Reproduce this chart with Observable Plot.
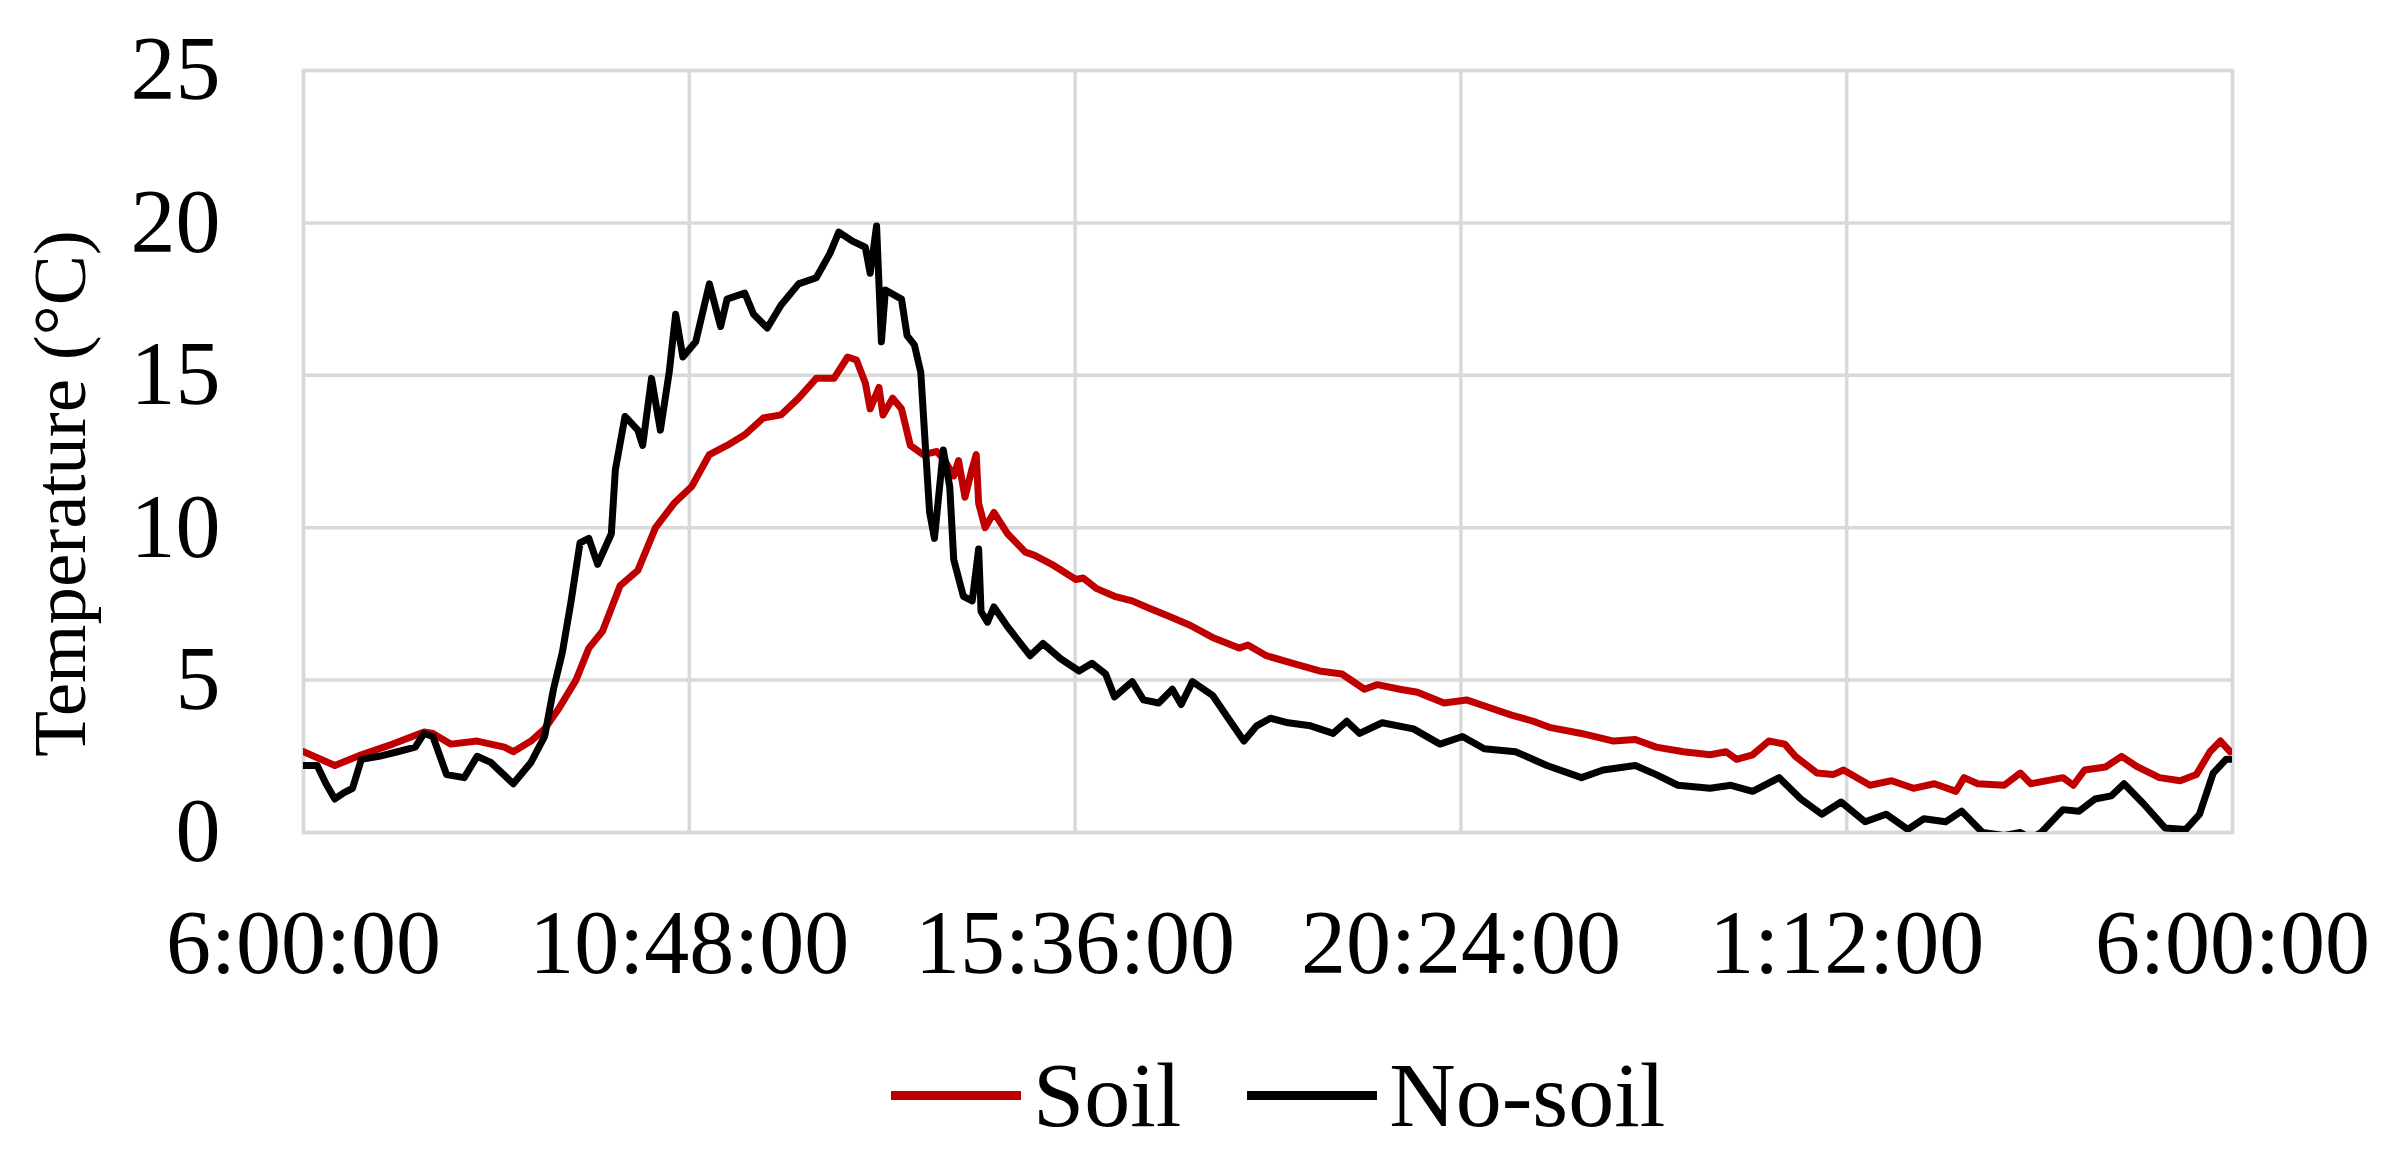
<!DOCTYPE html>
<html>
<head>
<meta charset="utf-8">
<script src="https://cdn.jsdelivr.net/npm/d3@7"></script>
<script src="https://cdn.jsdelivr.net/npm/@observablehq/plot@0.6"></script>
<style>
html, body { margin: 0; padding: 0; background: #fff; }
#chart { position: relative; width: 2390px; height: 1164px; overflow: hidden; }
.legend { position: absolute; left: 891px; top: 1049px; display: flex; align-items: center;
  font-family: "Liberation Serif", serif; font-size: 92px; line-height: 1; color: #000; }
.sw { display: inline-block; width: 130px; height: 9px; margin-right: 12px; }
.item { display: flex; align-items: center; }
</style>
</head>
<body>
<div id="chart"></div>
<script>
// Hours elapsed since 6:00:00
const soilTime = [0, 0.39, 0.72, 1.11, 1.5, 1.61, 1.83, 2.16, 2.5, 2.61, 2.83, 3.0, 3.16, 3.39, 3.55, 3.72, 3.94, 4.16, 4.38, 4.61, 4.83, 5.05, 5.27, 5.49, 5.72, 5.94, 6.16, 6.38, 6.6, 6.77, 6.88, 6.99, 7.05, 7.16, 7.21, 7.33, 7.44, 7.55, 7.71, 7.88, 7.98, 8.09, 8.15, 8.23, 8.31, 8.37, 8.4, 8.48, 8.59, 8.76, 8.98, 9.09, 9.31, 9.61, 9.7, 9.87, 10.09, 10.31, 10.53, 10.76, 11.03, 11.31, 11.64, 11.75, 11.98, 12.31, 12.64, 12.92, 13.2, 13.36, 13.64, 13.86, 14.19, 14.47, 14.75, 15.03, 15.3, 15.5, 15.9, 16.3, 16.57, 16.83, 17.17, 17.5, 17.7, 17.83, 18.03, 18.23, 18.43, 18.56, 18.83, 19.03, 19.16, 19.49, 19.76, 20.03, 20.29, 20.56, 20.66, 20.83, 21.16, 21.36, 21.49, 21.89, 22.02, 22.16, 22.42, 22.62, 22.82, 23.09, 23.35, 23.55, 23.72, 23.85, 23.97];
const soilTemp = [2.65, 2.2, 2.55, 2.9, 3.3, 3.25, 2.9, 3.0, 2.8, 2.65, 3.0, 3.4, 4.0, 5.0, 6.05, 6.6, 8.1, 8.6, 10.0, 10.8, 11.35, 12.4, 12.7, 13.05, 13.6, 13.7, 14.25, 14.9, 14.9, 15.6, 15.5, 14.75, 13.9, 14.6, 13.7, 14.25, 13.9, 12.7, 12.4, 12.5, 12.2, 11.7, 12.2, 11.0, 11.85, 12.4, 10.8, 10.0, 10.5, 9.8, 9.2, 9.1, 8.8, 8.3, 8.35, 8.0, 7.75, 7.6, 7.35, 7.1, 6.8, 6.4, 6.05, 6.15, 5.8, 5.55, 5.3, 5.2, 4.7, 4.85, 4.7, 4.6, 4.25, 4.35, 4.1, 3.85, 3.65, 3.45, 3.25, 3.0, 3.05, 2.8, 2.65, 2.55, 2.65, 2.4, 2.55, 3.0, 2.9, 2.5, 1.95, 1.9, 2.05, 1.55, 1.7, 1.45, 1.6, 1.35, 1.8, 1.6, 1.55, 1.95, 1.6, 1.8, 1.55, 2.05, 2.15, 2.5, 2.15, 1.8, 1.7, 1.9, 2.65, 3.0, 2.65];

const noSoilTime = [0, 0.17, 0.28, 0.39, 0.5, 0.61, 0.72, 0.94, 1.17, 1.39, 1.5, 1.61, 1.78, 2.0, 2.16, 2.33, 2.61, 2.83, 3.0, 3.11, 3.22, 3.33, 3.44, 3.55, 3.66, 3.83, 3.88, 4.0, 4.16, 4.22, 4.33, 4.44, 4.55, 4.63, 4.72, 4.88, 5.05, 5.19, 5.27, 5.49, 5.6, 5.77, 5.94, 6.16, 6.38, 6.55, 6.66, 6.83, 6.99, 7.05, 7.13, 7.19, 7.24, 7.44, 7.51, 7.6, 7.68, 7.74, 7.79, 7.85, 7.96, 8.04, 8.09, 8.21, 8.32, 8.4, 8.43, 8.51, 8.59, 8.76, 9.04, 9.2, 9.42, 9.65, 9.81, 9.98, 10.09, 10.31, 10.45, 10.64, 10.81, 10.92, 11.06, 11.31, 11.53, 11.7, 11.86, 12.03, 12.25, 12.53, 12.81, 12.98, 13.14, 13.42, 13.81, 14.14, 14.42, 14.69, 15.08, 15.47, 15.9, 16.17, 16.57, 16.83, 17.1, 17.5, 17.76, 18.03, 18.36, 18.63, 18.89, 19.13, 19.43, 19.69, 19.96, 20.16, 20.43, 20.63, 20.89, 21.16, 21.36, 21.49, 21.62, 21.89, 22.09, 22.29, 22.49, 22.65, 22.89, 23.16, 23.42, 23.59, 23.76, 23.92, 23.97];
const noSoilTemp = [2.2, 2.2, 1.6, 1.1, 1.3, 1.45, 2.4, 2.5, 2.65, 2.8, 3.25, 3.15, 1.9, 1.8, 2.5, 2.3, 1.6, 2.3, 3.15, 4.7, 5.9, 7.6, 9.5, 9.65, 8.8, 9.8, 11.9, 13.65, 13.2, 12.7, 14.9, 13.2, 15.1, 17.0, 15.6, 16.1, 18.0, 16.6, 17.5, 17.7, 17.0, 16.55, 17.3, 18.0, 18.2, 19.0, 19.7, 19.4, 19.2, 18.35, 19.9, 16.1, 17.8, 17.5, 16.3, 16.0, 15.1, 12.55, 10.5, 9.65, 12.55, 11.35, 8.95, 7.75, 7.6, 9.3, 7.25, 6.9, 7.4, 6.75, 5.8, 6.2, 5.7, 5.3, 5.55, 5.2, 4.45, 4.95, 4.35, 4.25, 4.7, 4.2, 4.95, 4.5, 3.65, 3.0, 3.5, 3.75, 3.6, 3.5, 3.25, 3.65, 3.25, 3.6, 3.4, 2.9, 3.15, 2.75, 2.65, 2.2, 1.8, 2.05, 2.2, 1.9, 1.55, 1.45, 1.55, 1.35, 1.8, 1.1, 0.6, 1.0, 0.35, 0.6, 0.1, 0.45, 0.35, 0.7, 0.0, -0.1, 0.0, -0.2, 0.0, 0.75, 0.7, 1.1, 1.2, 1.6, 0.95, 0.15, 0.1, 0.6, 1.95, 2.4, 2.4];

const xTickHours = [0, 4.8, 9.6, 14.4, 19.2, 24];
const xTickLabels = ["6:00:00", "10:48:00", "15:36:00", "20:24:00", "1:12:00", "6:00:00"];
const yTicks = [0, 5, 10, 15, 20, 25];
const seriesNames = ["Soil", "No-soil"];
const seriesColors = ["#c00000", "#000000"];
const yTitle = "Temperature (°C)";

const soilRows = soilTime.map((t, i) => ({t, v: soilTemp[i], s: seriesNames[0]}));
const noSoilRows = noSoilTime.map((t, i) => ({t, v: noSoilTemp[i], s: seriesNames[1]}));

const gridStyle = {stroke: "#d9d9d9", strokeOpacity: 1, strokeWidth: 3.5};

const plot = Plot.plot({
  width: 2390,
  height: 1010,
  marginTop: 70,
  marginBottom: 178,
  marginLeft: 303,
  marginRight: 158,
  style: {fontFamily: "'Liberation Serif', serif", fontSize: "90px", color: "#000", background: "#fff"},
  x: {type: "linear", domain: [0, 24]},
  y: {type: "linear", domain: [0, 25]},
  marks: [
    Plot.gridY(yTicks, gridStyle),
    Plot.gridX(xTickHours, gridStyle),
    Plot.frame({stroke: "#d9d9d9", strokeWidth: 3.5}),
    Plot.axisX(xTickHours, {tickSize: 0, tickPadding: 77, label: null,
      tickFormat: d => xTickLabels[xTickHours.indexOf(d)]}),
    Plot.axisY(yTicks, {tickSize: 0, tickPadding: 83, label: null}),
    Plot.line(soilRows, {x: "t", y: "v", stroke: seriesColors[0], strokeWidth: 7, clip: true, strokeLinejoin: "round"}),
    Plot.line(noSoilRows, {x: "t", y: "v", stroke: seriesColors[1], strokeWidth: 7, clip: true, strokeLinejoin: "round"}),
    Plot.text([yTitle], {text: d => d, frameAnchor: "left", textAnchor: "middle", lineAnchor: "middle", rotate: -90, dx: -243, dy: 42, fontSize: 75})
  ]
});

const chart = document.getElementById("chart");
chart.appendChild(plot);

const legend = document.createElement("div");
legend.className = "legend";
seriesNames.forEach((name, i) => {
  const item = document.createElement("div");
  item.className = "item";
  if (i > 0) item.style.marginLeft = "66px";
  const sw = document.createElement("span");
  sw.className = "sw";
  sw.style.background = seriesColors[i];
  const label = document.createElement("span");
  label.textContent = name;
  item.appendChild(sw);
  item.appendChild(label);
  legend.appendChild(item);
});
chart.appendChild(legend);
</script>
</body>
</html>
